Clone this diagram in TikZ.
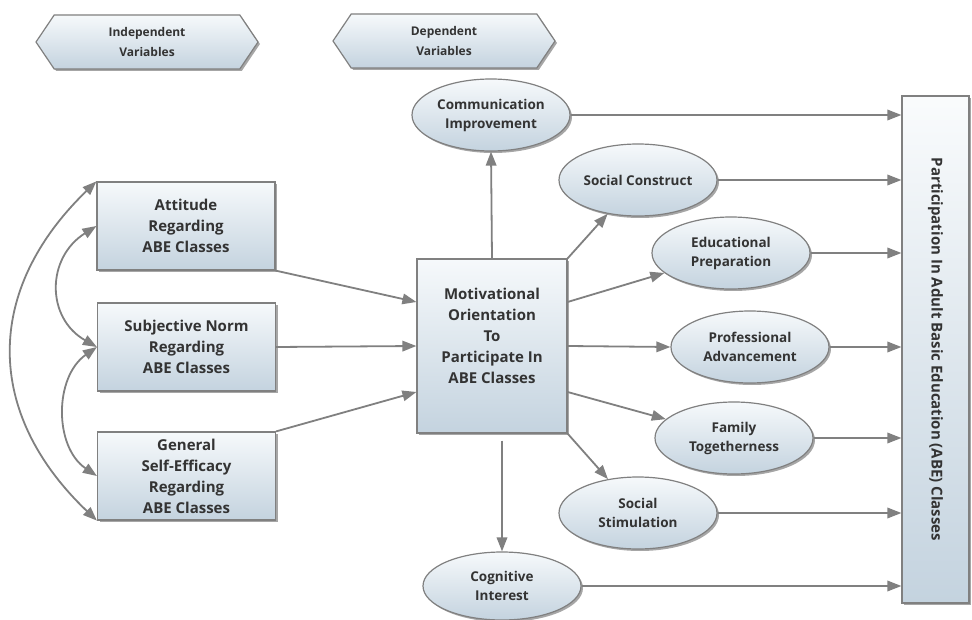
\documentclass[tikz,border=0pt]{standalone}
\usepackage{fontspec}
\setmainfont{Open Sans}
\usetikzlibrary{arrows.meta,shapes.geometric,shapes.symbols,shadows,calc}
\definecolor{lineg}{HTML}{808080}
\definecolor{txtc}{HTML}{333333}
\definecolor{fillhi}{HTML}{F6F9FB}
\definecolor{filllo}{HTML}{C4D3DF}
\tikzset{
  >={Triangle[length=14pt,width=10.5pt]},
  conn/.style={draw=lineg,line width=1.8pt},
  shad/.style={drop shadow={shadow xshift=2pt,shadow yshift=-2pt,fill=black,opacity=0.35}},
  boxnode/.style={rectangle,draw=lineg,line width=1.2pt,top color=fillhi,bottom color=filllo,
    shad,minimum width=178pt,minimum height=88pt,inner sep=0pt,align=center,
    text=txtc,font=\fontsize{15}{21}\selectfont\bfseries},
  ellnode/.style={ellipse,draw=lineg,line width=1.2pt,top color=fillhi,bottom color=filllo,
    shad,minimum width=158pt,minimum height=72pt,inner sep=0pt,align=center,
    text=txtc,font=\fontsize{13.5}{19}\selectfont\bfseries},
  hexnode/.style={signal,signal to=west and east,signal pointer angle=112,draw=lineg,line width=1.2pt,
    top color=fillhi,bottom color=filllo,shad,minimum width=222pt,minimum height=54pt,inner sep=0pt,
    align=center,text=txtc,font=\fontsize{12}{20}\selectfont\bfseries},
}
\begin{document}
\begin{tikzpicture}[x=1pt,y=-1pt]
\useasboundingbox[fill=white] (0,0) rectangle (972,620);
% headers
\node[hexnode] (hiv) at (147,42) {Independent\\Variables};
\node[hexnode] (hdv) at (444,41) {Dependent\\Variables};
% independent boxes
\node[boxnode] (att) at (186,226) {Attitude\\Regarding\\ABE Classes};
\node[boxnode] (sn) at (186.5,347) {Subjective Norm\\Regarding\\ABE Classes};
\node[boxnode] (gse) at (186.5,476) {General\\Self-Efficacy\\Regarding\\ABE Classes};
% central box
\node[boxnode,minimum width=150pt,minimum height=174pt] (mot) at (492,346)
  {Motivational\\Orientation\\To\\Participate In\\ABE Classes\\\mbox{}};
% ellipses
\node[ellnode] (comm) at (491,115) {Communication\\Improvement};
\node[ellnode] (soc) at (638,180) {Social Construct};
\node[ellnode] (edu) at (731,253) {Educational\\Preparation};
\node[ellnode] (prof) at (750,347) {Professional\\Advancement};
\node[ellnode] (fam) at (734,438) {Family\\Togetherness};
\node[ellnode] (stim) at (638,513) {Social\\Stimulation};
\node[ellnode,minimum height=68pt] (cog) at (502,586) {Cognitive\\Interest};
% right box
\node[rectangle,draw=lineg,line width=1.2pt,top color=fillhi!60!white,bottom color=filllo,
  shad,rotate=-90,minimum width=507pt,minimum height=67pt,inner sep=0pt,
  text=txtc,font=\fontsize{15}{18}\selectfont\bfseries] (part) at (935.5,349.5)
  {Participation In Adult Basic Education (ABE) Classes};
% correlations
\draw[conn,<->] (att.north west) .. controls (-16,290) and (-16,413) .. (gse.south west);
\draw[conn,<->] (att.west) .. controls (46,258) and (46,318) .. (sn.west);
\draw[conn,<->] (sn.west) .. controls (54,377) and (54,447) .. (gse.west);
% into motivational
\draw[conn,->] (att.south east) -- ([yshift=44pt]mot.west);
\draw[conn,->] (sn.east) -- (mot.west);
\draw[conn,->] (gse.north east) -- ([yshift=-46pt]mot.west);
% out of motivational
\draw[conn,->] (mot.north) -- (comm.south);
\draw[conn,->] (mot.north east) -- (soc);
\draw[conn,->] ([yshift=44pt]mot.east) -- (edu);
\draw[conn,->] (mot.east) -- (prof.west);
\draw[conn,->] ([yshift=-46pt]mot.east) -- (fam);
\draw[conn,->] (mot.south east) -- (stim);
\draw[conn,->] ($(mot.south -| cog.north)+(0,7)$) -- (cog.north);
% into participation
\foreach \n in {comm,soc,edu,prof,fam,stim,cog}
  \draw[conn,->] (\n.east) -- (\n.east -| part.south);
\end{tikzpicture}
\end{document}
